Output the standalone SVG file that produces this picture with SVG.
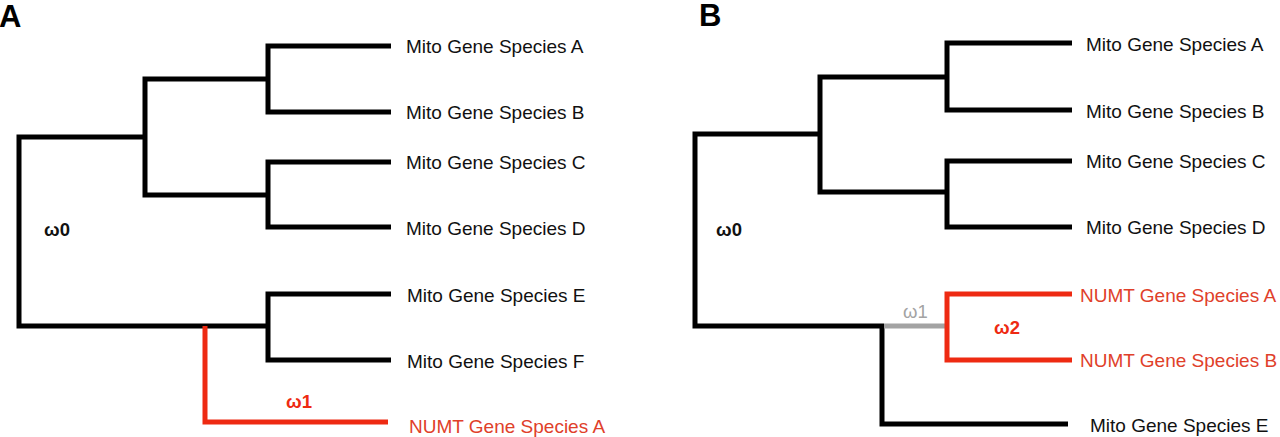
<svg xmlns="http://www.w3.org/2000/svg" width="1280" height="437" viewBox="0 0 1280 437">
<style>
.br{fill:none;stroke:#000;stroke-width:5;stroke-linecap:butt;stroke-linejoin:miter}
.rd{fill:none;stroke:#EE2A12;stroke-width:5;stroke-linejoin:miter}
.gr{fill:none;stroke:#A3A3A3;stroke-width:5}
.lb{font-family:"Liberation Sans",Arial,sans-serif;font-size:19px;fill:#111}
.lr{font-family:"Liberation Sans",Arial,sans-serif;font-size:19px;fill:#E0402A}
.om{font-family:"Liberation Sans",Arial,sans-serif;font-size:18.5px;font-weight:bold;fill:#111}
.pn{font-family:"Liberation Sans",Arial,sans-serif;font-size:31px;font-weight:bold;fill:#000}
</style>
<rect width="1280" height="437" fill="#fff"/>
<text class="pn" x="-1" y="27">A</text>
<text class="pn" x="699" y="26">B</text>
<g id="connectors">
<path class="br" d="M391,46 H268 V112 H391 M268,79 H145 V195 H268 M391,162 H268 V227 H391 M145,137 H19 V326 H268 M391,294 H268 V360 H391"/>
<path class="rd" d="M205,326 V422 H388"/>
<path class="br" d="M1072,43 H947 V110 H1072 M947,77 H820 V192 H947 M1072,161 H947 V227 H1072 M820,134 H695 V326 H884 M882,326 V424 H1068"/>
<path class="gr" d="M884,326 H947"/>
<path class="rd" d="M1072,294 H947 V360 H1072"/>
</g>
<g id="labelsA">
<text class="lb" x="406" y="53">Mito Gene Species A</text>
<text class="lb" x="406" y="119">Mito Gene Species B</text>
<text class="lb" x="406" y="169">Mito Gene Species C</text>
<text class="lb" x="406" y="235">Mito Gene Species D</text>
<text class="lb" x="407" y="302">Mito Gene Species E</text>
<text class="lb" x="407" y="368">Mito Gene Species F</text>
<text class="lr" x="409" y="433">NUMT Gene Species A</text>
<text class="om" x="44" y="236">ω0</text>
<text class="om" x="286" y="408" style="fill:#EE2A12">ω1</text>
</g>
<g id="labelsB">
<text class="lb" x="1086" y="51">Mito Gene Species A</text>
<text class="lb" x="1086" y="118">Mito Gene Species B</text>
<text class="lb" x="1086" y="168">Mito Gene Species C</text>
<text class="lb" x="1086" y="234">Mito Gene Species D</text>
<text class="lr" x="1080" y="302">NUMT Gene Species A</text>
<text class="lr" x="1080" y="367">NUMT Gene Species B</text>
<text class="lb" x="1090" y="432">Mito Gene Species E</text>
<text class="om" x="716" y="236">ω0</text>
<text class="om" x="903" y="318" style="fill:#A3A3A3;font-weight:normal">ω1</text>
<text class="om" x="994" y="334" style="fill:#EE2A12">ω2</text>
</g>
</svg>
